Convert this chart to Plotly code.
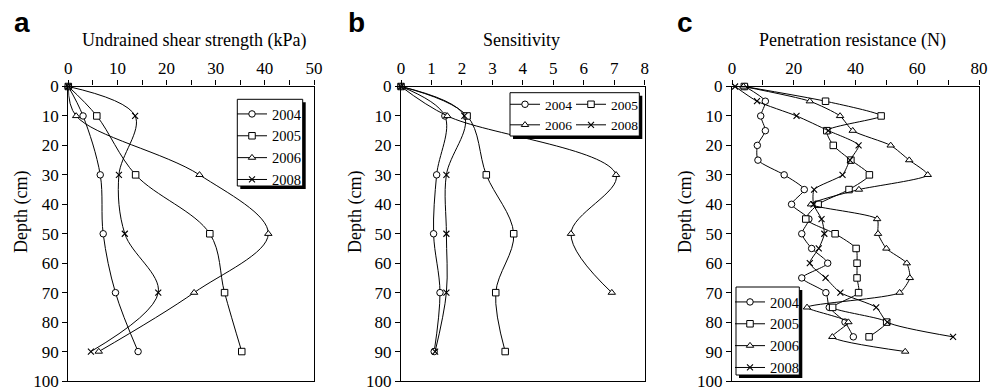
import plotly.graph_objects as go

# ---------------- data ----------------
years = ["2004", "2005", "2006", "2008"]

# Panel a: undrained shear strength (kPa)
depth_a = [0, 10, 30, 50, 70, 90]
shear_2004 = [0, 3.0, 6.5, 7.1, 9.6, 14.2]
shear_2005 = [0, 5.8, 13.7, 28.8, 31.8, 35.3]
shear_2006 = [0, 1.6, 26.7, 40.7, 25.6, 6.2]
shear_2008 = [0, 13.6, 10.3, 11.5, 18.3, 4.6]

# Panel b: sensitivity
depth_b = [0, 10, 30, 50, 70, 90]
depth_b06 = [0, 10, 30, 50, 70]
sens_2004 = [0, 1.44, 1.17, 1.07, 1.28, 1.09]
sens_2005 = [0, 2.17, 2.80, 3.70, 3.11, 3.42]
sens_2006 = [0, 1.52, 7.06, 5.58, 6.92]
sens_2008 = [0, 2.08, 1.49, 1.49, 1.49, 1.12]

# Panel c: penetration resistance (N)
depth_c85 = [0, 5, 10, 15, 20, 25, 30, 35, 40, 45, 50, 55, 60, 65, 70, 75, 80, 85]
depth_c90 = depth_c85 + [90]
pen_2004 = [4.2, 10.8, 9.3, 10.8, 8.2, 8.4, 16.9, 23.4, 19.3, 24.9, 22.6, 25.8,
            31.0, 22.6, 30.4, 31.5, 36.6, 39.3]
pen_2005 = [4.0, 30.3, 48.3, 30.7, 32.8, 38.5, 44.5, 37.9, 27.9, 23.9, 33.4, 40.2,
            40.5, 40.5, 41.0, 32.6, 50.1, 44.4]
pen_2006 = [3.7, 25.2, 35.0, 39.1, 51.4, 57.4, 63.4, 41.1, 25.6, 47.0, 47.3, 50.0,
            56.6, 57.6, 54.3, 24.3, 37.7, 32.5, 56.1]
pen_2008 = [1.0, 8.1, 20.9, 31.2, 41.0, 38.2, 35.8, 26.6, 26.4, 29.0, 29.9, 28.1,
            25.2, 30.3, 35.1, 46.7, 50.3, 71.6]

# ---------------- styling ----------------
# the page body has an 8px margin, so the figure is drawn 8px in from the corner
OFF = 8
W, H = 1002 - OFF, 392 - OFF
SERIF = "Liberation Serif"
symbols = {"2004": "circle", "2005": "square", "2006": "triangle-up", "2008": "x-thin"}


def px_x(p):
    return (p - OFF) / W


def px_y(p):
    return 1 - (p - OFF) / H


fig = go.Figure()


def add(xdata, ydata, year, xa, ya, legend, smooth):
    sym = symbols[year]
    mk = dict(symbol=sym, size=6.5, color="white", line=dict(color="black", width=1))
    if sym == "x-thin":
        mk = dict(symbol=sym, size=6, color="black", line=dict(color="black", width=1.1))
    fig.add_trace(go.Scatter(
        x=xdata, y=ydata, name=year, mode="lines+markers",
        line=dict(color="black", width=1, shape="spline", smoothing=smooth),
        marker=mk, xaxis=xa, yaxis=ya, legend=legend, cliponaxis=False,
    ))


add(shear_2004, depth_a, "2004", "x", "y", "legend", 1.0)
add(shear_2005, depth_a, "2005", "x", "y", "legend", 1.0)
add(shear_2006, depth_a, "2006", "x", "y", "legend", 1.0)
add(shear_2008, depth_a, "2008", "x", "y", "legend", 1.0)

add(sens_2004, depth_b, "2004", "x2", "y2", "legend2", 1.0)
add(sens_2005, depth_b, "2005", "x2", "y2", "legend3", 1.0)
add(sens_2006, depth_b06, "2006", "x2", "y2", "legend2", 1.0)
add(sens_2008, depth_b, "2008", "x2", "y2", "legend3", 1.0)

add(pen_2004, depth_c85, "2004", "x3", "y3", "legend4", 0.6)
add(pen_2005, depth_c85, "2005", "x3", "y3", "legend4", 0.6)
add(pen_2006, depth_c90, "2006", "x3", "y3", "legend4", 0.6)
add(pen_2008, depth_c85, "2008", "x3", "y3", "legend4", 0.6)

tickfont = dict(family=SERIF, size=17, color="black")
ydom = [px_y(381), px_y(86.5)]

panels = [
    ("", [68.3, 314], [0, 50], 10, 5),
    ("2", [401, 644.7], [0, 8], 1, None),
    ("3", [732, 979], [0, 80], 20, 10),
]
for suf, (x0, x1), rng, dt, mdt in panels:
    xa = dict(domain=[px_x(x0), px_x(x1)], range=rng, side="top", dtick=dt, tick0=0,
              ticks="outside", ticklen=5, tickwidth=1, tickcolor="black",
              showline=True, linecolor="black", linewidth=1.2, mirror=True,
              showgrid=False, zeroline=False, tickfont=tickfont, automargin=False,
              anchor="y" + suf, fixedrange=True)
    if mdt:
        xa["minor"] = dict(dtick=mdt, tick0=0, ticks="outside", ticklen=5,
                           tickcolor="black", tickwidth=1, showgrid=False)
    ya = dict(domain=ydom, range=[100, 0], dtick=10, tick0=0, ticks="outside",
              ticklen=5, tickwidth=1, tickcolor="black", showline=True,
              linecolor="black", linewidth=1.2, mirror=True, showgrid=False,
              zeroline=False, tickfont=tickfont, automargin=False,
              anchor="x" + suf, fixedrange=True)
    fig.layout["xaxis" + suf] = xa
    fig.layout["yaxis" + suf] = ya

# legend boxes (shadow + frame)
boxes = [
    (237.3, 99.3, 302.7, 186.0),
    (510.0, 92.7, 639.3, 136.0),
    (736.0, 287.0, 799.3, 375.0),
]
shapes = []
for (bx0, by0, bx1, by1) in boxes:
    shapes.append(dict(type="rect", xref="paper", yref="paper",
                       x0=px_x(bx0 + 3), x1=px_x(bx1 + 3), y0=px_y(by1 + 3), y1=px_y(by0 + 3),
                       fillcolor="black", line=dict(width=0), layer="above"))
    shapes.append(dict(type="rect", xref="paper", yref="paper",
                       x0=px_x(bx0), x1=px_x(bx1), y0=px_y(by1), y1=px_y(by0),
                       fillcolor="white", line=dict(color="black", width=1), layer="above"))
fig.update_layout(shapes=shapes)

common = dict(bgcolor="rgba(0,0,0,0)", borderwidth=0,
              xanchor="left", yanchor="top", itemclick=False, itemdoubleclick=False,
              tracegroupgap=0, itemwidth=30)
f15 = dict(family=SERIF, size=14.5, color="black")
f14 = dict(family=SERIF, size=13.5, color="black")
fig.update_layout(
    legend=dict(x=px_x(232), y=px_y(98), font=f15, **common),
    legend2=dict(x=px_x(505), y=px_y(89), font=f14, **common),
    legend3=dict(x=px_x(571), y=px_y(89), font=f14, **common),
    legend4=dict(x=px_x(730), y=px_y(286), font=f15, **common),
)

annotations = []
titles = [("Undrained shear strength (kPa)", 194), ("Sensitivity", 521),
          ("Penetration resistance (N)", 852)]
for txt, cx in titles:
    annotations.append(dict(text=txt, x=px_x(cx), y=px_y(40), xref="paper", yref="paper",
                            showarrow=False, xanchor="center", yanchor="middle",
                            font=dict(family=SERIF, size=18, color="black")))
for cx in [21, 355, 685]:
    annotations.append(dict(text="Depth (cm)", x=px_x(cx), y=px_y(212), xref="paper",
                            yref="paper", showarrow=False, textangle=-90,
                            xanchor="center", yanchor="middle",
                            font=dict(family=SERIF, size=18, color="black")))
for lbl, cx in [("a", 21.5), ("b", 356), ("c", 685)]:
    annotations.append(dict(text="<b>" + lbl + "</b>", x=px_x(cx), y=px_y(22), xref="paper",
                            yref="paper", showarrow=False, xanchor="center", yanchor="middle",
                            font=dict(family="Liberation Sans", size=28, color="black")))
fig.update_layout(annotations=annotations)

fig.update_layout(width=W, height=H,
                  margin=dict(l=0, r=0, t=0, b=0, autoexpand=False),
                  paper_bgcolor="white", plot_bgcolor="white", showlegend=True)

fig.write_html("out.html")
